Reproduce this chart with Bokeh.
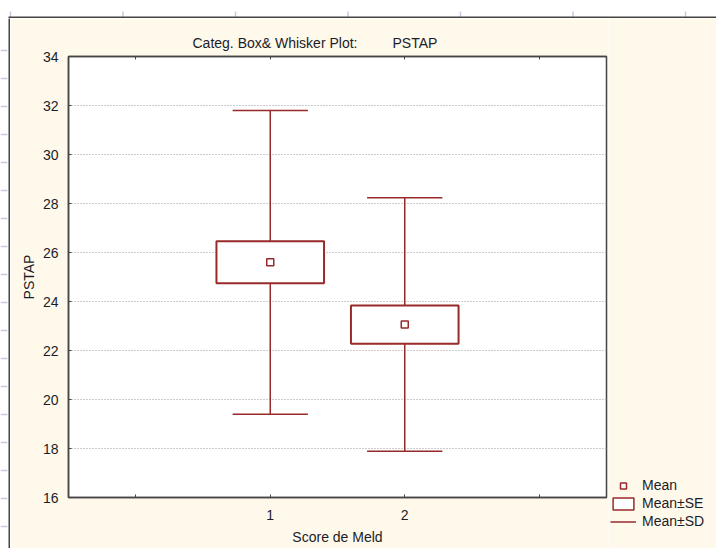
from bokeh.plotting import figure
from bokeh.models import Range1d, FixedTicker, LinearAxis, Legend, LegendItem
from bokeh.layouts import column, row
from bokeh.embed import file_html
from bokeh.resources import INLINE

# ---- data ----
categories = [1, 2]
cat_labels = ["1", "2"]
means = [25.6, 23.06]
se = [0.86, 0.78]
sd = [6.2, 5.17]
x_ticks = [0, 1, 2, 3]
y_ticks = [16, 18, 20, 22, 24, 26, 28, 30, 32, 34]
ruler_top_ticks = [0, 1, 2, 3, 4, 5, 6]
ruler_left_ticks = list(range(18))

title_text = "Categ. Box& Whisker Plot:" + "\u00a0" * 9 + "PSTAP"
x_label = "Score de Meld"
y_label = "PSTAP"
legend_labels = ["Mean", "Mean\u00b1SE", "Mean\u00b1SD"]

RED = "#992a2a"
FRAME = "#454545"
CREAM = "#fff9ec"
TEXT = "#1c1c28"
RULER = "#c6cbe0"
FONT = "Liberation Sans"
FS = "14px"
NAN = float("nan")


def bare(fig, bg):
    fig.axis.visible = False
    fig.grid.visible = False
    fig.outline_line_color = None
    fig.background_fill_color = bg
    fig.border_fill_color = bg
    fig.frame_align = False


# ---- ruler strip on top (page y 0..18) ----
ruler = figure(width=716, height=18, x_range=Range1d(-10 / 112.5, 706 / 112.5),
               y_range=Range1d(0, 18), toolbar_location=None, output_backend="svg",
               min_border=0)
bare(ruler, "white")
ruler.segment(x0=ruler_top_ticks, y0=[0] * len(ruler_top_ticks), x1=ruler_top_ticks,
              y1=[7] * len(ruler_top_ticks), line_color=RULER, line_width=1.5)
ruler.segment(x0=[-2 / 112.5], y0=[1], x1=[7], y1=[1], line_color=FRAME, line_width=2)

# ---- ruler strip on the left (page x 0..8) ----
lruler = figure(width=8, height=530, x_range=Range1d(0, 8),
                y_range=Range1d((548 - 50) / 28, -(50 - 18) / 28),
                toolbar_location=None, output_backend="svg", min_border=0)
bare(lruler, "white")
lruler.segment(x0=[0] * len(ruler_left_ticks), y0=ruler_left_ticks,
               x1=[7] * len(ruler_left_ticks), y1=ruler_left_ticks,
               line_color=RULER, line_width=1.5)

# ---- left frame line ----
strip = figure(width=2, height=530, toolbar_location=None, output_backend="svg",
               min_border=0)
bare(strip, FRAME)

# ---- main plot ----
p = figure(width=598, height=530, x_range=Range1d(-0.5, 3.5), y_range=Range1d(16, 34),
           toolbar_location=None, output_backend="svg",
           min_border_left=58, min_border_right=2, min_border_top=38,
           min_border_bottom=51)
p.border_fill_color = CREAM
p.background_fill_color = "white"
p.outline_line_color = FRAME
p.outline_line_width = 1.5

p.title.text = title_text
p.title.align = "left"
p.title.offset = 124
p.title.text_font = FONT
p.title.text_font_size = FS
p.title.text_font_style = "normal"
p.title.text_color = TEXT
p.title.standoff = 12

minor_x = [t for t in x_ticks if t not in categories]

xa = p.xaxis[0]
xa.ticker = FixedTicker(ticks=categories, minor_ticks=minor_x)
xa.major_label_overrides = {c: l for c, l in zip(categories, cat_labels)}
xa.axis_label = x_label
xa.major_label_standoff = 12
xa.axis_label_standoff = 6

ya = p.yaxis[0]
ya.ticker = FixedTicker(ticks=y_ticks)
ya.axis_label = y_label
ya.major_label_standoff = 10
ya.axis_label_standoff = 3
ya.minor_tick_line_color = None

for ax in (xa, ya):
    ax.axis_line_color = FRAME
    ax.axis_line_width = 1.5
    ax.major_tick_in = 3
    ax.major_tick_out = 0
    ax.minor_tick_in = 3
    ax.minor_tick_out = 0
    ax.major_tick_line_color = FRAME
    ax.major_label_text_font = FONT
    ax.major_label_text_font_size = FS
    ax.major_label_text_color = TEXT
    ax.axis_label_text_font = FONT
    ax.axis_label_text_font_size = FS
    ax.axis_label_text_font_style = "normal"
    ax.axis_label_text_color = TEXT
xa.minor_tick_line_color = FRAME

top = LinearAxis(ticker=FixedTicker(ticks=[], minor_ticks=x_ticks),
                 major_label_standoff=4, major_tick_in=0, major_tick_out=0,
                 minor_tick_in=3, minor_tick_out=0, minor_tick_line_color=FRAME,
                 axis_line_color=FRAME, axis_line_width=1.5)
p.add_layout(top, "above")

p.xgrid.visible = False
p.ygrid.ticker = FixedTicker(ticks=y_ticks)
p.ygrid.grid_line_color = "#999999"
p.ygrid.grid_line_dash = "1 2"

# ---- glyphs ----
box_w = 0.8
cap_w = 0.56
lo_se = [m - s for m, s in zip(means, se)]
hi_se = [m + s for m, s in zip(means, se)]
lo_sd = [m - s for m, s in zip(means, sd)]
hi_sd = [m + s for m, s in zip(means, sd)]

p.segment(x0=categories, y0=hi_se, x1=categories, y1=hi_sd, line_color=RED, line_width=1.5)
p.segment(x0=categories, y0=lo_se, x1=categories, y1=lo_sd, line_color=RED, line_width=1.5)
cap_x0 = [c - cap_w / 2 for c in categories]
cap_x1 = [c + cap_w / 2 for c in categories]
p.segment(x0=cap_x0 + cap_x0, y0=hi_sd + lo_sd, x1=cap_x1 + cap_x1,
          y1=hi_sd + lo_sd, line_color=RED, line_width=1.5)
p.quad(left=[c - box_w / 2 for c in categories],
       right=[c + box_w / 2 for c in categories],
       bottom=lo_se, top=hi_se, fill_color="white", line_color=RED, line_width=2)
p.scatter(categories, means, marker="square", size=7, fill_color="white",
          line_color=RED, line_width=1.5)

# ---- legend panel on the right ----
lg = figure(width=108, height=530, x_range=Range1d(0, 1), y_range=Range1d(0, 1),
            toolbar_location=None, output_backend="svg", min_border=0)
bare(lg, CREAM)
lg.title.visible = False
lg_mean = lg.scatter(x=[NAN], y=[NAN], marker="square", size=7, fill_color="white",
                     line_color=RED, line_width=1.5)
lg_box = lg.quad(left=[NAN], right=[NAN], bottom=[NAN], top=[NAN], fill_color="white",
                 line_color=RED, line_width=1.5)
lg_sd = lg.segment(x0=[NAN], y0=[NAN], x1=[NAN], y1=[NAN], line_color=RED, line_width=1.5)

legend = Legend(items=[LegendItem(label=legend_labels[0], renderers=[lg_mean]),
                       LegendItem(label=legend_labels[1], renderers=[lg_box]),
                       LegendItem(label=legend_labels[2], renderers=[lg_sd])],
                location=(2, 19), orientation="vertical",
                glyph_width=26, glyph_height=15, label_height=15,
                label_standoff=6, spacing=2, padding=0, margin=0,
                label_text_font=FONT, label_text_font_size=FS,
                label_text_color=TEXT, background_fill_alpha=0,
                border_line_alpha=0)
lg.add_layout(legend)

layout = column(ruler, row(lruler, strip, p, lg))
open("out.html", "w").write(file_html(layout, INLINE))
